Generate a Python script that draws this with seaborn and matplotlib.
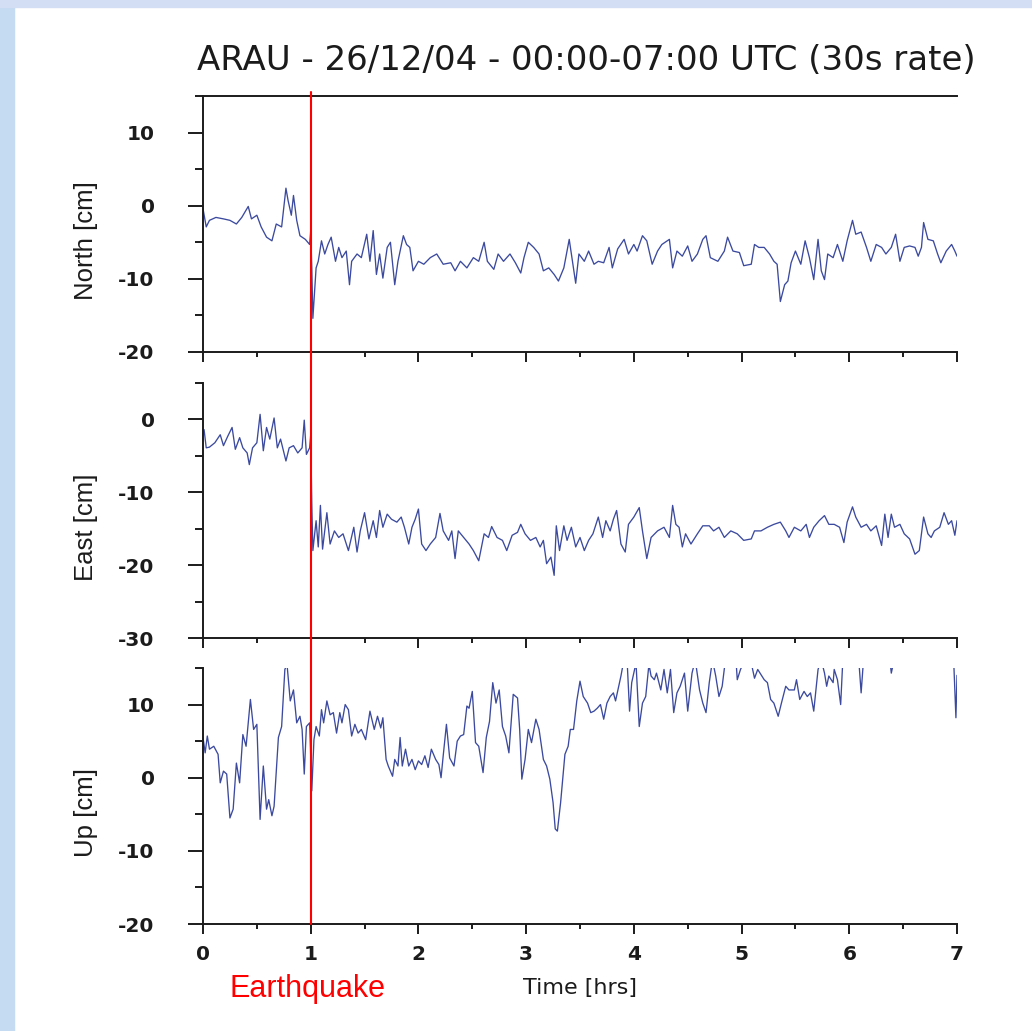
"""ARAU GPS displacement, 26 Dec 2004, three components around the earthquake."""

import matplotlib
matplotlib.use("Agg")
import matplotlib.pyplot as plt
import pandas as pd
import seaborn as sns
from matplotlib.patches import Rectangle
from matplotlib.ticker import MultipleLocator

# ---- data (hours after 00:00 UTC, cm) ----
north_hours = [
    0.00, 0.03, 0.06, 0.12, 0.19, 0.25, 0.31, 0.36, 0.42, 0.45,
    0.50, 0.54, 0.59, 0.64, 0.68, 0.73, 0.77, 0.79, 0.82, 0.84,
    0.87, 0.90, 0.95, 0.99, 1.00, 1.01, 1.02, 1.05, 1.07, 1.10,
    1.13, 1.16, 1.19, 1.23, 1.26, 1.29, 1.33, 1.36, 1.38, 1.43,
    1.47, 1.52, 1.55, 1.58, 1.61, 1.64, 1.67, 1.71, 1.74, 1.78,
    1.81, 1.86, 1.89, 1.92, 1.95, 2.00, 2.05, 2.11, 2.17, 2.23,
    2.30, 2.34, 2.39, 2.45, 2.51, 2.56, 2.61, 2.64, 2.70, 2.74,
    2.79, 2.85, 2.90, 2.95, 2.98, 3.02, 3.07, 3.12, 3.16, 3.21,
    3.26, 3.30, 3.35, 3.40, 3.43, 3.46, 3.49, 3.54, 3.58, 3.63,
    3.67, 3.72, 3.77, 3.80, 3.85, 3.91, 3.95, 4.00, 4.03, 4.08,
    4.12, 4.17, 4.22, 4.26, 4.33, 4.36, 4.40, 4.45, 4.50, 4.54,
    4.59, 4.64, 4.67, 4.71, 4.78, 4.84, 4.87, 4.92, 4.98, 5.02,
    5.09, 5.12, 5.16, 5.21, 5.26, 5.30, 5.33, 5.36, 5.40, 5.43,
    5.46, 5.50, 5.55, 5.59, 5.63, 5.67, 5.71, 5.74, 5.77, 5.80,
    5.85, 5.89, 5.94, 5.98, 6.03, 6.06, 6.11, 6.16, 6.20, 6.25,
    6.30, 6.34, 6.39, 6.43, 6.47, 6.51, 6.56, 6.61, 6.64, 6.67,
    6.69, 6.73, 6.78, 6.82, 6.85, 6.90, 6.95, 6.98, 7.00,
]
north_cm = [
    -0.4, -2.9, -2.0, -1.6, -1.8, -2.0, -2.5, -1.6, -0.1, -1.8,
    -1.3, -2.9, -4.3, -4.8, -2.5, -2.9, 2.4, 0.7, -1.3, 1.4,
    -2.0, -4.1, -4.6, -5.3, -3.4, -8.5, -15.4, -8.5, -7.6, -4.8,
    -6.6, -5.3, -4.3, -7.6, -5.7, -7.1, -6.2, -10.8, -7.6, -6.6,
    -7.1, -3.9, -7.6, -3.4, -9.4, -6.6, -9.9, -5.7, -5.0, -10.8,
    -7.6, -4.1, -5.3, -5.7, -8.9, -7.6, -8.0, -7.1, -6.6, -8.0,
    -7.8, -8.9, -7.6, -8.5, -7.1, -7.6, -5.0, -7.6, -8.7, -6.6,
    -7.6, -6.6, -7.8, -9.2, -7.1, -5.0, -5.7, -6.6, -8.9, -8.5,
    -9.4, -10.3, -8.5, -4.6, -7.6, -10.6, -6.6, -7.6, -6.2, -8.0,
    -7.6, -7.8, -5.7, -8.5, -5.9, -4.6, -6.6, -5.3, -6.2, -4.1,
    -4.8, -8.0, -6.2, -5.3, -4.6, -8.5, -6.2, -6.9, -5.5, -7.6,
    -6.6, -4.6, -4.1, -7.1, -7.6, -6.2, -4.3, -6.2, -6.4, -8.2,
    -8.0, -5.3, -5.7, -5.7, -6.6, -7.6, -8.0, -13.1, -10.8, -10.3,
    -7.8, -6.2, -8.0, -4.8, -7.1, -10.1, -4.6, -8.9, -10.1, -6.6,
    -7.1, -5.3, -7.6, -4.8, -2.0, -3.9, -3.6, -5.7, -7.6, -5.3,
    -5.7, -6.6, -5.7, -3.9, -7.6, -5.7, -5.5, -5.7, -6.9, -5.7,
    -2.3, -4.6, -4.8, -6.6, -7.8, -6.2, -5.3, -6.2, -6.9,
]

east_hours = [
    0.01, 0.03, 0.06, 0.11, 0.16, 0.19, 0.23, 0.27, 0.30, 0.34,
    0.37, 0.41, 0.43, 0.46, 0.50, 0.53, 0.56, 0.59, 0.62, 0.66,
    0.69, 0.72, 0.77, 0.80, 0.84, 0.88, 0.92, 0.94, 0.96, 0.99,
    1.00, 1.01, 1.02, 1.05, 1.07, 1.09, 1.11, 1.15, 1.18, 1.22,
    1.26, 1.30, 1.35, 1.40, 1.43, 1.46, 1.50, 1.54, 1.58, 1.61,
    1.64, 1.67, 1.71, 1.75, 1.80, 1.84, 1.87, 1.91, 1.94, 1.97,
    2.00, 2.03, 2.07, 2.11, 2.16, 2.20, 2.23, 2.28, 2.31, 2.34,
    2.37, 2.42, 2.47, 2.51, 2.56, 2.61, 2.65, 2.68, 2.73, 2.78,
    2.82, 2.87, 2.92, 2.95, 2.99, 3.04, 3.09, 3.13, 3.16, 3.19,
    3.23, 3.26, 3.28, 3.31, 3.35, 3.38, 3.42, 3.46, 3.50, 3.54,
    3.58, 3.62, 3.67, 3.71, 3.74, 3.78, 3.81, 3.84, 3.88, 3.92,
    3.95, 4.00, 4.05, 4.08, 4.12, 4.16, 4.22, 4.28, 4.33, 4.36,
    4.39, 4.42, 4.45, 4.48, 4.53, 4.59, 4.64, 4.70, 4.74, 4.79,
    4.84, 4.90, 4.96, 5.02, 5.09, 5.12, 5.18, 5.24, 5.30, 5.36,
    5.41, 5.44, 5.49, 5.55, 5.60, 5.63, 5.67, 5.72, 5.77, 5.81,
    5.86, 5.91, 5.95, 5.98, 6.03, 6.06, 6.11, 6.16, 6.20, 6.25,
    6.30, 6.33, 6.36, 6.39, 6.42, 6.47, 6.51, 6.56, 6.61, 6.65,
    6.69, 6.73, 6.76, 6.79, 6.84, 6.88, 6.92, 6.95, 6.98, 7.00,
]
east_cm = [
    -1.4, -3.9, -3.8, -3.2, -2.1, -3.6, -2.3, -1.1, -4.1, -2.5,
    -3.9, -4.6, -6.2, -3.9, -3.2, 0.7, -4.3, -1.1, -2.7, 0.2,
    -3.9, -2.7, -5.7, -3.9, -3.6, -4.6, -3.9, -0.1, -4.8, -3.9,
    -2.1, -11.6, -18.0, -13.9, -17.5, -11.8, -17.8, -12.8, -17.1, -15.3,
    -16.2, -15.7, -18.0, -14.8, -18.2, -15.3, -12.8, -16.4, -13.9, -16.2,
    -12.5, -14.8, -13.0, -13.7, -14.1, -13.4, -14.8, -17.1, -14.8, -13.7,
    -12.3, -17.1, -18.0, -17.1, -16.2, -12.9, -15.3, -16.6, -15.3, -19.1,
    -15.3, -16.2, -17.1, -18.0, -19.4, -15.7, -16.2, -14.7, -16.2, -16.6,
    -18.0, -15.9, -15.5, -14.4, -15.7, -16.6, -16.2, -17.5, -16.6, -19.8,
    -18.9, -21.4, -14.6, -18.0, -14.6, -16.6, -14.8, -17.5, -16.2, -18.0,
    -16.6, -15.7, -13.4, -16.2, -13.9, -15.3, -13.7, -12.5, -17.1, -18.2,
    -14.4, -13.4, -12.1, -15.3, -19.1, -16.2, -15.3, -14.8, -16.2, -11.8,
    -14.4, -14.8, -17.5, -15.7, -17.1, -15.7, -14.6, -14.6, -15.3, -14.8,
    -16.2, -15.3, -15.7, -16.6, -16.4, -15.3, -15.3, -14.8, -14.4, -14.1,
    -15.3, -16.2, -14.8, -15.3, -14.4, -16.2, -14.8, -13.9, -13.2, -14.4,
    -14.4, -14.8, -16.9, -14.1, -12.0, -13.4, -14.8, -14.4, -15.3, -14.6,
    -17.3, -13.0, -16.2, -13.0, -14.8, -14.4, -15.7, -16.4, -18.5, -18.0,
    -13.4, -15.7, -16.2, -15.3, -14.8, -12.8, -14.4, -13.9, -15.9, -13.9,
]

up_hours = [
    0.00, 0.02, 0.04, 0.06, 0.10, 0.14, 0.16, 0.19, 0.22, 0.25,
    0.28, 0.31, 0.34, 0.37, 0.40, 0.44, 0.47, 0.50, 0.53, 0.56,
    0.59, 0.61, 0.64, 0.66, 0.70, 0.73, 0.76, 0.78, 0.81, 0.84,
    0.87, 0.90, 0.92, 0.94, 0.96, 0.99, 1.01, 1.03, 1.05, 1.08,
    1.10, 1.12, 1.15, 1.18, 1.21, 1.24, 1.27, 1.29, 1.32, 1.35,
    1.38, 1.41, 1.44, 1.47, 1.51, 1.55, 1.59, 1.62, 1.65, 1.67,
    1.70, 1.72, 1.76, 1.78, 1.81, 1.83, 1.85, 1.88, 1.91, 1.94,
    1.97, 2.00, 2.03, 2.06, 2.09, 2.12, 2.16, 2.19, 2.21, 2.23,
    2.26, 2.29, 2.33, 2.36, 2.39, 2.42, 2.45, 2.47, 2.50, 2.53,
    2.56, 2.60, 2.63, 2.66, 2.69, 2.72, 2.75, 2.78, 2.81, 2.84,
    2.88, 2.92, 2.94, 2.96, 2.99, 3.02, 3.05, 3.09, 3.12, 3.16,
    3.19, 3.22, 3.25, 3.27, 3.29, 3.32, 3.36, 3.39, 3.41, 3.44,
    3.47, 3.50, 3.53, 3.57, 3.60, 3.63, 3.66, 3.69, 3.72, 3.75,
    3.78, 3.81, 3.83, 3.86, 3.88, 3.90, 3.94, 3.96, 3.98, 4.02,
    4.05, 4.08, 4.11, 4.14, 4.16, 4.19, 4.21, 4.25, 4.28, 4.31,
    4.34, 4.37, 4.40, 4.43, 4.47, 4.50, 4.54, 4.57, 4.61, 4.64,
    4.67, 4.70, 4.73, 4.76, 4.79, 4.82, 4.85, 4.90, 4.95, 4.96,
    4.99, 5.04, 5.09, 5.12, 5.15, 5.18, 5.21, 5.24, 5.27, 5.30,
    5.34, 5.37, 5.41, 5.44, 5.49, 5.51, 5.54, 5.58, 5.61, 5.64,
    5.67, 5.71, 5.74, 5.77, 5.79, 5.81, 5.85, 5.86, 5.89, 5.92,
    5.94, 6.02, 6.09, 6.11, 6.13, 6.20, 6.30, 6.38, 6.39, 6.41,
    6.51, 6.79, 6.97, 6.99, 7.00,
]
up_cm = [
    5.5, 3.4, 5.7, 3.9, 4.3, 3.2, -0.7, 0.9, 0.5, -5.5,
    -4.3, 2.0, -0.7, 5.9, 4.3, 10.7, 6.6, 7.3, -5.7, 1.6,
    -4.3, -3.0, -5.2, -3.9, 5.5, 7.0, 14.8, 15.5, 10.5, 12.0,
    7.5, 8.4, 6.6, 0.5, 7.0, 7.5, -1.8, 5.2, 7.0, 5.7,
    9.3, 7.5, 10.5, 8.6, 8.9, 6.1, 8.9, 7.5, 10.0, 9.3,
    5.7, 7.3, 6.1, 6.6, 5.2, 9.1, 6.6, 8.4, 6.8, 8.2,
    2.5, 1.6, 0.2, 2.5, 1.6, 5.5, 1.6, 3.9, 1.6, 2.5,
    1.1, 2.3, 1.8, 3.0, 1.4, 3.9, 2.5, 1.8, 0.0, 3.0,
    7.3, 2.7, 1.6, 5.0, 5.7, 5.9, 9.8, 9.5, 11.8, 4.8,
    4.3, 0.7, 5.5, 7.7, 13.0, 10.2, 12.0, 7.0, 5.7, 3.4,
    11.4, 10.9, 6.6, -0.2, 2.5, 6.6, 4.8, 8.0, 6.6, 2.5,
    1.6, -0.2, -3.4, -7.0, -7.3, -3.4, 3.2, 4.3, 6.6, 6.6,
    10.5, 13.2, 11.1, 10.2, 8.9, 9.1, 9.5, 10.0, 8.0, 10.2,
    11.1, 11.6, 10.5, 12.5, 13.9, 15.5, 15.2, 9.1, 13.0, 15.7,
    7.0, 10.2, 11.1, 15.5, 13.9, 13.4, 14.3, 12.0, 14.8, 11.6,
    14.8, 8.9, 11.6, 12.5, 14.3, 9.1, 14.3, 16.1, 12.0, 10.2,
    8.9, 13.0, 16.1, 13.9, 11.1, 12.5, 16.1, 16.6, 15.7, 13.4,
    14.8, 16.4, 15.7, 13.6, 14.8, 14.1, 13.4, 13.0, 10.7, 10.2,
    8.4, 10.2, 12.5, 12.0, 12.0, 13.4, 10.7, 11.8, 11.1, 11.6,
    9.1, 14.8, 16.1, 14.3, 12.5, 13.9, 13.0, 14.8, 13.4, 10.0,
    16.1, 17.0, 15.7, 11.6, 15.7, 17.0, 17.0, 15.7, 14.3, 15.7,
    17.0, 17.0, 15.7, 8.2, 14.0,
]

panel_names = ["North [cm]", "East [cm]", "Up [cm]"]
panel_limits = [(-20, 15), (-30, 5), (-20, 15)]
quake_hour = 1.0

TRACE = "#3b4a9e"
INK = "#1b1b1b"

sns.set_theme(style="ticks")
plt.rcParams["font.family"] = ["DejaVu Sans"]
plt.rcParams["axes.unicode_minus"] = False

fig = plt.figure(figsize=(10.32, 10.31), dpi=100, facecolor="white")

# slide background peeking through at the left and top edges
fig.patches.append(Rectangle((0, 0), 14 / 1032, 1, transform=fig.transFigure,
                             color="#c4dbf2", zorder=-10))
fig.patches.append(Rectangle((0, 1 - 7 / 1031), 1, 7 / 1031, transform=fig.transFigure,
                             color="#d3ddf4", zorder=-10))

left, width = 203 / 1032, 754 / 1032
tops = [96, 383, 668]
heights = [256, 255, 256]
series = [(north_hours, north_cm), (east_hours, east_cm), (up_hours, up_cm)]
gap_above = [4, 31, 30]

axes = []
for i, (top, h) in enumerate(zip(tops, heights)):
    ax = fig.add_axes([left, 1 - (top + h) / 1031, width, h / 1031])
    ax.set_facecolor("none")
    hours, cm = series[i]
    df = pd.DataFrame({"hours": hours, "cm": cm})
    sns.lineplot(data=df, x="hours", y="cm", ax=ax, color=TRACE, linewidth=0.95,
                 estimator=None, sort=False)

    ax.set_xlim(0, 7)
    ax.set_ylim(*panel_limits[i])
    ax.xaxis.set_major_locator(MultipleLocator(1))
    ax.xaxis.set_minor_locator(MultipleLocator(0.5))
    ax.yaxis.set_major_locator(MultipleLocator(10))
    ax.yaxis.set_minor_locator(MultipleLocator(5))

    for side in ["left", "bottom", "top", "right"]:
        ax.spines[side].set_linewidth(1.4)
        ax.spines[side].set_color(INK)
    ax.spines["right"].set_visible(False)
    ax.spines["top"].set_visible(i == 0)

    ax.tick_params(axis="y", which="major", direction="out", length=10.8, width=1.4,
                   pad=24, labelsize=14.5, colors=INK)
    ax.tick_params(axis="y", which="minor", direction="out", length=5.8, width=1.4,
                   colors=INK)
    ax.tick_params(axis="x", which="major", direction="out", length=7.2, width=1.4,
                   pad=8, labelsize=14.5, colors=INK)
    ax.tick_params(axis="x", which="minor", direction="out", length=3.6, width=1.4,
                   colors=INK)
    ax.tick_params(top=False, right=False, which="both")
    for lab in ax.get_xticklabels() + ax.get_yticklabels():
        lab.set_fontweight("bold")
    if i < 2:
        ax.tick_params(axis="x", labelbottom=False)

    ax.set_xlabel("")
    ax.set_ylabel(panel_names[i], family=["Liberation Sans", "DejaVu Sans"],
                  fontsize=18.5, color=INK)
    ax.yaxis.set_label_coords(-0.139, 0.435)

    ax.axvline(quake_hour, ymin=0, ymax=1 + gap_above[i] / h, color="red",
               linewidth=1.5, clip_on=False, zorder=4)
    axes.append(ax)

axes[2].set_xlabel("Time [hrs]", fontsize=16, color=INK)
axes[2].xaxis.set_label_coords(0.5, -(978 - 924) / 256)
axes[2].xaxis.label.set_va("top")

fig.text(586 / 1032, 1 - 60 / 1031, "ARAU - 26/12/04 - 00:00-07:00 UTC (30s rate)",
         ha="center", va="center", fontsize=24.5, color=INK)
fig.text(230 / 1032, 1 - 997 / 1031, "Earthquake", ha="left", va="baseline",
         fontsize=22, color="red", family=["Liberation Sans", "DejaVu Sans"])

fig.savefig("out.png", dpi=100, facecolor=fig.get_facecolor())
